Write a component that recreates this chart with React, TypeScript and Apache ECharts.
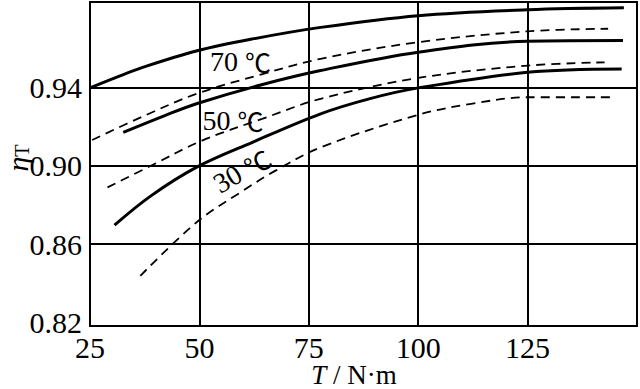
import React, { useEffect, useRef } from "react";
import * as echarts from "echarts";

// Torque T (N·m) and efficiency ηT readings for each curve
const solid70T = [25, 31, 37.2, 49.5, 62, 77.7, 100, 125, 147];
const solid70 = [0.94, 0.9454, 0.9506, 0.959, 0.965, 0.971, 0.977, 0.98, 0.981];

const solid50T = [32.6, 42.1, 49.5, 64, 77.7, 100, 125, 146.8];
const solid50 = [0.9172, 0.9258, 0.932, 0.9415, 0.9489, 0.9583, 0.9639, 0.9643];

const solid30T = [30.6, 39, 49.5, 62, 77.7, 89, 100, 125, 146.5];
const solid30 = [0.8697, 0.8848, 0.8995, 0.912, 0.9267, 0.9345, 0.94, 0.948, 0.9497];

const dashed70T = [25.5, 37.5, 49.5, 64, 77.7, 100, 125, 143.4];
const dashed70 = [0.9133, 0.9258, 0.9371, 0.9468, 0.9549, 0.9634, 0.969, 0.9703];

const dashed50T = [29, 39, 50.6, 64.3, 77.7, 100, 125, 142.6];
const dashed50 = [0.889, 0.9002, 0.913, 0.9241, 0.9344, 0.9451, 0.9514, 0.9531];

const dashed30T = [36.5, 49.5, 59.4, 67.4, 77.7, 100, 112.1, 125, 143.8];
const dashed30 = [0.8437, 0.8714, 0.8865, 0.8976, 0.9095, 0.9262, 0.9318, 0.9352, 0.9352];

// Axis ticks
const xTicks = [25, 50, 75, 100, 125];
const yTickLabels = [0.82, 0.86, 0.9, 0.94];
const yGridValues = [0.86, 0.9, 0.94];

// Curve labels (placed at data coordinates)
const curveLabelNum = ["70", "50", "30"];
const curveLabelUnit = "℃";
const curveLabelT = [59.4, 57.7, 59.7];
const curveLabelEta = [0.9537, 0.9235, 0.8976];
const curveLabelAngle = [0, 0, 30];

const FONT = "'Liberation Serif', 'Times New Roman', serif";
const CJK = "'Noto Sans CJK SC', 'Liberation Serif', serif";

const pairs = (xs: number[], ys: number[]) => xs.map((x, i) => [x, ys[i]]);

export default function App() {
  const ref = useRef<HTMLDivElement>(null);

  useEffect(() => {
    if (!ref.current) return;
    const chart = echarts.init(ref.current, undefined, { renderer: "svg" });

    const solidStyle = { color: "#000", width: 3, type: "solid" as const };
    const dashStyle = { color: "#000", width: 1.8, type: [9, 6] as number[] };

    const lineSeries = (data: number[][], style: any, extra: any = {}) => ({
      type: "line",
      data,
      symbol: "none",
      smooth: 0.35,
      lineStyle: style,
      itemStyle: { color: "#000" },
      silent: true,
      z: 3,
      ...extra,
    });

    const axisTitles = [
      {
        type: "text",
        x: 17,
        y: 158,
        rotation: Math.PI / 2,
        style: {
          text: "{i|η}{s|T}",
          align: "center",
          verticalAlign: "middle",
          fill: "#000",
          rich: {
            i: { fontFamily: FONT, fontSize: 30, fontStyle: "italic", fill: "#000" },
            s: { fontFamily: FONT, fontSize: 20, fill: "#000", padding: [10, 0, 0, 0] },
          },
        },
      },
      {
        type: "text",
        x: 354,
        y: 375,
        style: {
          text: "{i|T}{n| / N·m}",
          align: "center",
          verticalAlign: "middle",
          fill: "#000",
          rich: {
            i: { fontFamily: FONT, fontSize: 27, fontStyle: "italic", fill: "#000" },
            n: { fontFamily: FONT, fontSize: 27, fill: "#000" },
          },
        },
      },
    ];

    chart.setOption({
      animation: false,
      backgroundColor: "#fff",
      grid: {
        left: 90,
        top: 2,
        width: 547,
        height: 324,
        show: true,
        borderColor: "#000",
        borderWidth: 2,
        backgroundColor: "transparent",
      },
      xAxis: {
        type: "value",
        min: 25,
        max: 150,
        interval: 25,
        axisLine: { show: true, lineStyle: { color: "#000", width: 2 } },
        axisTick: { show: false },
        axisLabel: {
          color: "#000",
          fontFamily: FONT,
          fontSize: 30,
          margin: 6,
          formatter: (v: number) => (xTicks.includes(v) ? String(v) : ""),
        },
        splitLine: { show: true, lineStyle: { color: "#000", width: 2 } },
      },
      yAxis: {
        type: "value",
        min: 0.818,
        max: 0.984,
        interval: 0.002,
        axisLine: { show: true, lineStyle: { color: "#000", width: 2 } },
        axisTick: { show: false },
        axisLabel: {
          color: "#000",
          fontFamily: FONT,
          fontSize: 30,
          margin: 8,
          formatter: (v: number) => {
            const t = yTickLabels.find((l) => Math.abs(l - v) < 1e-6);
            return t === undefined ? "" : t.toFixed(2);
          },
        },
        splitLine: { show: false },
      },
      graphic: axisTitles,
      series: [
        lineSeries(pairs(solid70T, solid70), solidStyle, {
          markLine: {
            silent: true,
            symbol: ["none", "none"],
            label: { show: false },
            lineStyle: { color: "#000", width: 2, type: "solid" },
            data: yGridValues.map((v) => ({ yAxis: v })),
          },
        }),
        lineSeries(pairs(solid50T, solid50), solidStyle),
        lineSeries(pairs(solid30T, solid30), solidStyle),
        lineSeries(pairs(dashed70T, dashed70), dashStyle),
        lineSeries(pairs(dashed50T, dashed50), dashStyle),
        lineSeries(pairs(dashed30T, dashed30), dashStyle),
      ],
    });

    const labelTexts = curveLabelNum.map((num, i) => {
      const [px, py] = chart.convertToPixel({ gridIndex: 0 }, [curveLabelT[i], curveLabelEta[i]]) as number[];
      return {
        type: "text",
        x: px,
        y: py,
        rotation: (curveLabelAngle[i] * Math.PI) / 180,
        z: 10,
        style: {
          text: `{n|${num} }{u|${curveLabelUnit}}`,
          align: "center",
          verticalAlign: "middle",
          fill: "#000",
          rich: {
            n: { fontFamily: FONT, fontSize: 28, fill: "#000" },
            u: { fontFamily: CJK, fontSize: 26, fill: "#000" },
          },
        },
      };
    });

    chart.setOption({ graphic: [...axisTitles, ...labelTexts] });

    return () => chart.dispose();
  }, []);

  return (
    <div
      ref={ref}
      style={{ position: "fixed", left: 0, top: 0, width: 640, height: 389, background: "#fff" }}
    />
  );
}
